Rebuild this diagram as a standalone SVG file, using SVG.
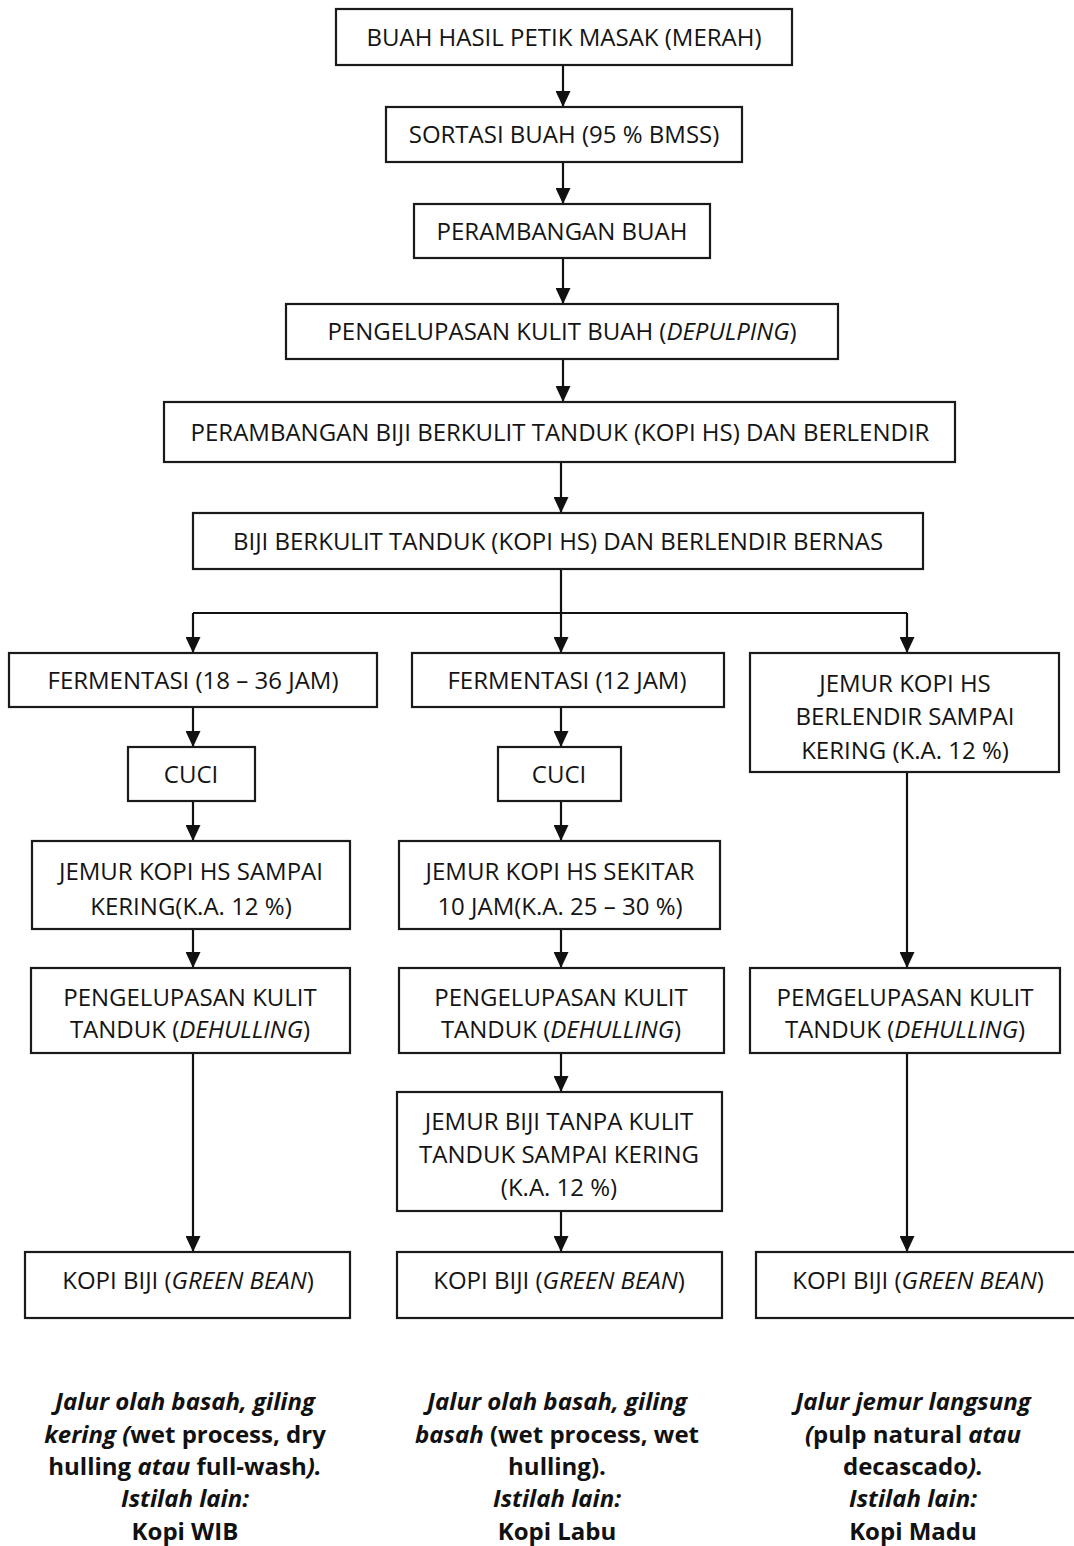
<svg xmlns="http://www.w3.org/2000/svg" width="1074" height="1546" viewBox="0 0 1074 1546">
<style>
.box{fill:#fff;stroke:#1a1a1a;stroke-width:2.2}
.t{font-family:"Open Sans","Liberation Sans",sans-serif;font-size:24px;fill:#141414;text-anchor:middle}
.i{font-style:italic}
.b{font-family:"Open Sans","Liberation Sans",sans-serif;font-size:24px;font-weight:bold;fill:#111;text-anchor:middle}
.c{stroke:#111;stroke-width:2.2;fill:none}
</style>
<defs>
<marker id="ah" viewBox="0 0 16 15" refX="16" refY="7.5" markerWidth="16" markerHeight="15" markerUnits="userSpaceOnUse" orient="auto">
<path d="M0,0 L16,7.5 L0,15 z" fill="#111"/>
</marker>
</defs>
<rect width="1074" height="1546" fill="#fff"/>
<g id="connectors">
<line class="c" x1="563" y1="65" x2="563" y2="107" marker-end="url(#ah)"/>
<line class="c" x1="563" y1="162" x2="563" y2="204" marker-end="url(#ah)"/>
<line class="c" x1="563" y1="258" x2="563" y2="304" marker-end="url(#ah)"/>
<line class="c" x1="563" y1="359" x2="563" y2="402" marker-end="url(#ah)"/>
<line class="c" x1="561" y1="462" x2="561" y2="513" marker-end="url(#ah)"/>
<line class="c" x1="561" y1="569" x2="561" y2="653" marker-end="url(#ah)"/>
<line class="c" x1="193" y1="613" x2="907" y2="613"/>
<line class="c" x1="193" y1="613" x2="193" y2="653" marker-end="url(#ah)"/>
<line class="c" x1="907" y1="613" x2="907" y2="653" marker-end="url(#ah)"/>
<line class="c" x1="193" y1="707" x2="193" y2="747" marker-end="url(#ah)"/>
<line class="c" x1="193" y1="801" x2="193" y2="841" marker-end="url(#ah)"/>
<line class="c" x1="193" y1="929" x2="193" y2="968" marker-end="url(#ah)"/>
<line class="c" x1="193" y1="1053" x2="193" y2="1252" marker-end="url(#ah)"/>
<line class="c" x1="561" y1="707" x2="561" y2="747" marker-end="url(#ah)"/>
<line class="c" x1="561" y1="801" x2="561" y2="841" marker-end="url(#ah)"/>
<line class="c" x1="561" y1="929" x2="561" y2="968" marker-end="url(#ah)"/>
<line class="c" x1="561" y1="1053" x2="561" y2="1092" marker-end="url(#ah)"/>
<line class="c" x1="561" y1="1211" x2="561" y2="1252" marker-end="url(#ah)"/>
<line class="c" x1="907" y1="772" x2="907" y2="968" marker-end="url(#ah)"/>
<line class="c" x1="907" y1="1053" x2="907" y2="1252" marker-end="url(#ah)"/>
</g>
<g id="n1"><rect class="box" x="336" y="9" width="456" height="56"/><text class="t" x="564" y="46">BUAH HASIL PETIK MASAK (MERAH)</text></g>
<g id="n2"><rect class="box" x="386" y="107" width="356" height="55"/><text class="t" x="564" y="143">SORTASI BUAH (95 % BMSS)</text></g>
<g id="n3"><rect class="box" x="414" y="204" width="296" height="54"/><text class="t" x="562" y="240">PERAMBANGAN BUAH</text></g>
<g id="n4"><rect class="box" x="286" y="304" width="552" height="55"/><text class="t" x="562" y="340">PENGELUPASAN KULIT BUAH (<tspan class="i">DEPULPING</tspan>)</text></g>
<g id="n5"><rect class="box" x="164" y="402" width="791" height="60"/><text class="t" x="560" y="441">PERAMBANGAN BIJI BERKULIT TANDUK (KOPI HS) DAN BERLENDIR</text></g>
<g id="n6"><rect class="box" x="193" y="513" width="730" height="56"/><text class="t" x="558" y="550">BIJI BERKULIT TANDUK (KOPI HS) DAN BERLENDIR BERNAS</text></g>
<g id="n7"><rect class="box" x="9" y="653" width="368" height="54"/><text class="t" x="193" y="689">FERMENTASI (18 – 36 JAM)</text></g>
<g id="n8"><rect class="box" x="412" y="653" width="312" height="54"/><text class="t" x="567" y="689">FERMENTASI (12 JAM)</text></g>
<g id="n9"><rect class="box" x="750" y="653" width="309" height="119"/><text class="t" x="905" y="692">JEMUR KOPI HS</text><text class="t" x="905" y="725">BERLENDIR SAMPAI</text><text class="t" x="905" y="759">KERING (K.A. 12 %)</text></g>
<g id="n10"><rect class="box" x="128" y="747" width="127" height="54"/><text class="t" x="191" y="783">CUCI</text></g>
<g id="n11"><rect class="box" x="498" y="747" width="123" height="54"/><text class="t" x="559" y="783">CUCI</text></g>
<g id="n12"><rect class="box" x="32" y="841" width="318" height="88"/><text class="t" x="191" y="880">JEMUR KOPI HS SAMPAI</text><text class="t" x="191" y="915">KERING(K.A. 12 %)</text></g>
<g id="n13"><rect class="box" x="399" y="841" width="321" height="88"/><text class="t" x="560" y="880">JEMUR KOPI HS SEKITAR</text><text class="t" x="560" y="915">10 JAM(K.A. 25 – 30 %)</text></g>
<g id="n14"><rect class="box" x="31" y="968" width="319" height="85"/><text class="t" x="190" y="1006">PENGELUPASAN KULIT</text><text class="t" x="190" y="1038">TANDUK (<tspan class="i">DEHULLING</tspan>)</text></g>
<g id="n15"><rect class="box" x="399" y="968" width="325" height="85"/><text class="t" x="561" y="1006">PENGELUPASAN KULIT</text><text class="t" x="561" y="1038">TANDUK (<tspan class="i">DEHULLING</tspan>)</text></g>
<g id="n16"><rect class="box" x="750" y="968" width="310" height="85"/><text class="t" x="905" y="1006">PEMGELUPASAN KULIT</text><text class="t" x="905" y="1038">TANDUK (<tspan class="i">DEHULLING</tspan>)</text></g>
<g id="n17"><rect class="box" x="397" y="1092" width="325" height="119"/><text class="t" x="559" y="1130">JEMUR BIJI TANPA KULIT</text><text class="t" x="559" y="1163">TANDUK SAMPAI KERING</text><text class="t" x="559" y="1196">(K.A. 12 %)</text></g>
<g id="n18"><rect class="box" x="25" y="1252" width="325" height="66"/><text class="t" x="188" y="1289">KOPI BIJI (<tspan class="i">GREEN BEAN</tspan>)</text></g>
<g id="n19"><rect class="box" x="397" y="1252" width="325" height="66"/><text class="t" x="559" y="1289">KOPI BIJI (<tspan class="i">GREEN BEAN</tspan>)</text></g>
<g id="n20"><rect class="box" x="756" y="1252" width="330" height="66"/><text class="t" x="918" y="1289">KOPI BIJI (<tspan class="i">GREEN BEAN</tspan>)</text></g>
<g id="notes">
<text class="b" x="185" y="1410"><tspan class="i">Jalur olah basah, giling</tspan></text>
<text class="b" x="185" y="1443"><tspan class="i">kering (</tspan>wet process, dry</text>
<text class="b" x="185" y="1475">hulling <tspan class="i">atau</tspan> full-wash<tspan class="i">).</tspan></text>
<text class="b" x="185" y="1507"><tspan class="i">Istilah lain:</tspan></text>
<text class="b" x="185" y="1540">Kopi WIB</text>
<text class="b" x="557" y="1410"><tspan class="i">Jalur olah basah, giling</tspan></text>
<text class="b" x="557" y="1443"><tspan class="i">basah</tspan> (wet process, wet</text>
<text class="b" x="557" y="1475">hulling).</text>
<text class="b" x="557" y="1507"><tspan class="i">Istilah lain:</tspan></text>
<text class="b" x="557" y="1540">Kopi Labu</text>
<text class="b" x="913" y="1410"><tspan class="i">Jalur jemur langsung</tspan></text>
<text class="b" x="913" y="1443"><tspan class="i">(</tspan>pulp natural <tspan class="i">atau</tspan></text>
<text class="b" x="913" y="1475">decascado<tspan class="i">).</tspan></text>
<text class="b" x="913" y="1507"><tspan class="i">Istilah lain:</tspan></text>
<text class="b" x="913" y="1540">Kopi Madu</text>
</g>
</svg>
